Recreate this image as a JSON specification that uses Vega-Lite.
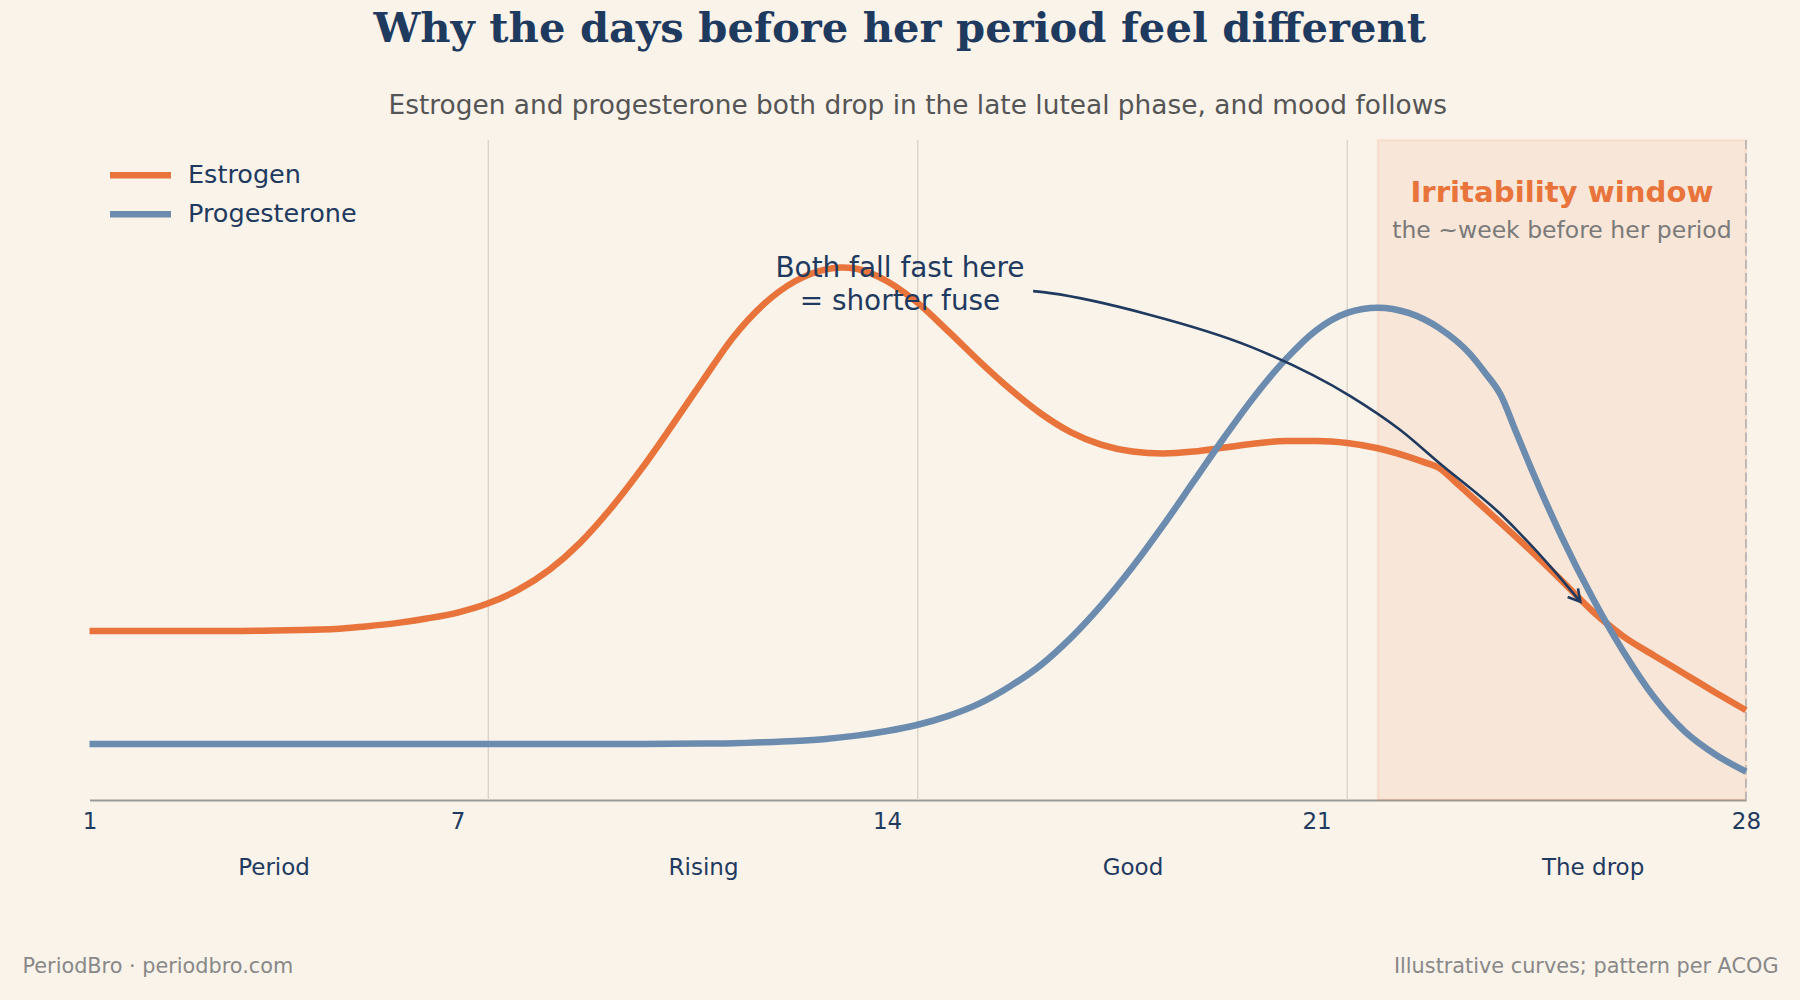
{
  "$schema": "https://vega.github.io/schema/vega-lite/v6.json",
  "width": 1656.5,
  "height": 660,
  "autosize": {"type": "none"},
  "padding": {"left": 89.5, "top": 140, "right": 54, "bottom": 200},
  "background": "#FAF3EA",
  "title": {
    "text": "Why the days before her period feel different",
    "subtitle": "Estrogen and progesterone both drop in the late luteal phase, and mood follows",
    "anchor": "middle",
    "frame": "group",
    "font": "DejaVu Serif",
    "fontSize": 41.7,
    "fontWeight": "bold",
    "color": "#1F3A5F",
    "subtitleFont": "DejaVu Sans",
    "subtitleFontSize": 26.4,
    "subtitleColor": "#555555",
    "subtitlePadding": 42,
    "offset": 19.6,
    "encode": {"title": {"update": {"dx": {"value": -18}}}}
  },
  "config": {
    "view": {"stroke": null},
    "font": "DejaVu Sans",
    "legend": {
      "orient": "none",
      "legendX": 32.5,
      "legendY": 16.8,
      "padding": 0,
      "symbolType": "M-2,0L2,0",
      "symbolSize": 930,
      "symbolStrokeWidth": 6.5,
      "labelFont": "DejaVu Sans",
      "labelFontSize": 25.5,
      "labelColor": "#1F3A5F",
      "labelOffset": 29,
      "labelLimit": 400,
      "rowPadding": 7
    }
  },
  "encoding": {
    "x": {
      "field": "day",
      "type": "quantitative",
      "scale": {"domain": [1, 28], "nice": false, "zero": false},
      "axis": {
        "values": [1, 4, 7, 11, 14, 18, 21, 25.5, 28],
        "labelExpr": "datum.value == 4 ? ['', 'Period'] : datum.value == 11 ? ['', 'Rising'] : datum.value == 18 ? ['', 'Good'] : datum.value == 25.5 ? ['', 'The drop'] : datum.label",
        "labelFlush": false,
        "labelOverlap": false,
        "labelPadding": 10,
        "labelBaseline": "top",
        "labelFont": "DejaVu Sans",
        "labelFontSize": 23,
        "labelColor": "#1F3A5F",
        "labelLineHeight": 46.7,
        "ticks": false,
        "grid": false,
        "domainColor": "#999999",
        "domainWidth": 2,
        "title": "PeriodBro · periodbro.com",
        "titleX": -67.5,
        "titleY": 166.3,
        "titleAlign": "left",
        "titleAnchor": "start",
        "titleBaseline": "middle",
        "titleFont": "DejaVu Sans",
        "titleFontSize": 20.8,
        "titleFontWeight": "normal",
        "titleColor": "#888888"
      }
    }
  },
  "layer": [
    {
      "data": {"values": [{"day": 22, "day_end": 28}]},
      "mark": {"type": "rect", "fill": "#E8743B", "fillOpacity": 0.1, "stroke": "#E8743B", "strokeOpacity": 0.1, "strokeWidth": 2.5},
      "encoding": {"x2": {"field": "day_end"}}
    },
    {
      "data": {"values": [{"day": 7.5}, {"day": 14.5}, {"day": 21.5}]},
      "mark": {"type": "rule", "stroke": "#D6D2C6", "strokeWidth": 1.3},
      "encoding": {}
    },
    {
      "data": {"values": [{"day": 28}]},
      "mark": {"type": "rule", "stroke": "#AFAFAF", "strokeWidth": 1.5, "strokeDash": [9.3, 4]},
      "encoding": {}
    },
    {
      "data": {"values": [
        {"day": 1, "hormone": "Estrogen", "level": 25.6},
        {"day": 2, "hormone": "Estrogen", "level": 25.6},
        {"day": 3, "hormone": "Estrogen", "level": 25.6},
        {"day": 4, "hormone": "Estrogen", "level": 25.7},
        {"day": 5, "hormone": "Estrogen", "level": 25.9},
        {"day": 5.5, "hormone": "Estrogen", "level": 26.3},
        {"day": 6, "hormone": "Estrogen", "level": 26.8},
        {"day": 6.5, "hormone": "Estrogen", "level": 27.5},
        {"day": 7, "hormone": "Estrogen", "level": 28.4},
        {"day": 7.5, "hormone": "Estrogen", "level": 29.8},
        {"day": 8, "hormone": "Estrogen", "level": 31.9},
        {"day": 8.5, "hormone": "Estrogen", "level": 34.9},
        {"day": 9, "hormone": "Estrogen", "level": 39.0},
        {"day": 9.5, "hormone": "Estrogen", "level": 44.2},
        {"day": 10, "hormone": "Estrogen", "level": 50.2},
        {"day": 10.5, "hormone": "Estrogen", "level": 56.8},
        {"day": 11, "hormone": "Estrogen", "level": 63.6},
        {"day": 11.5, "hormone": "Estrogen", "level": 70.2},
        {"day": 12, "hormone": "Estrogen", "level": 75.2},
        {"day": 12.5, "hormone": "Estrogen", "level": 78.6},
        {"day": 13, "hormone": "Estrogen", "level": 80.4},
        {"day": 13.25, "hormone": "Estrogen", "level": 80.7},
        {"day": 13.5, "hormone": "Estrogen", "level": 80.5},
        {"day": 14, "hormone": "Estrogen", "level": 78.6},
        {"day": 14.5, "hormone": "Estrogen", "level": 75.3},
        {"day": 15, "hormone": "Estrogen", "level": 71.0},
        {"day": 15.5, "hormone": "Estrogen", "level": 66.5},
        {"day": 16, "hormone": "Estrogen", "level": 62.3},
        {"day": 16.5, "hormone": "Estrogen", "level": 58.6},
        {"day": 17, "hormone": "Estrogen", "level": 55.7},
        {"day": 17.5, "hormone": "Estrogen", "level": 53.8},
        {"day": 18, "hormone": "Estrogen", "level": 52.8},
        {"day": 18.5, "hormone": "Estrogen", "level": 52.5},
        {"day": 19, "hormone": "Estrogen", "level": 52.8},
        {"day": 19.5, "hormone": "Estrogen", "level": 53.4},
        {"day": 20, "hormone": "Estrogen", "level": 54.0},
        {"day": 20.5, "hormone": "Estrogen", "level": 54.4},
        {"day": 21, "hormone": "Estrogen", "level": 54.4},
        {"day": 21.5, "hormone": "Estrogen", "level": 54.1},
        {"day": 22, "hormone": "Estrogen", "level": 53.3},
        {"day": 22.5, "hormone": "Estrogen", "level": 52.0},
        {"day": 22.75, "hormone": "Estrogen", "level": 51.2},
        {"day": 23, "hormone": "Estrogen", "level": 50.3},
        {"day": 23.25, "hormone": "Estrogen", "level": 48.3},
        {"day": 23.5, "hormone": "Estrogen", "level": 46.2},
        {"day": 24, "hormone": "Estrogen", "level": 42.0},
        {"day": 24.5, "hormone": "Estrogen", "level": 37.7},
        {"day": 25, "hormone": "Estrogen", "level": 33.2},
        {"day": 25.5, "hormone": "Estrogen", "level": 28.6},
        {"day": 26, "hormone": "Estrogen", "level": 24.8},
        {"day": 26.5, "hormone": "Estrogen", "level": 21.9},
        {"day": 27, "hormone": "Estrogen", "level": 19.1},
        {"day": 27.5, "hormone": "Estrogen", "level": 16.3},
        {"day": 28, "hormone": "Estrogen", "level": 13.6},
        {"day": 1, "hormone": "Progesterone", "level": 8.5},
        {"day": 2, "hormone": "Progesterone", "level": 8.5},
        {"day": 3, "hormone": "Progesterone", "level": 8.5},
        {"day": 4, "hormone": "Progesterone", "level": 8.5},
        {"day": 5, "hormone": "Progesterone", "level": 8.5},
        {"day": 6, "hormone": "Progesterone", "level": 8.5},
        {"day": 7, "hormone": "Progesterone", "level": 8.5},
        {"day": 8, "hormone": "Progesterone", "level": 8.5},
        {"day": 9, "hormone": "Progesterone", "level": 8.5},
        {"day": 10, "hormone": "Progesterone", "level": 8.5},
        {"day": 11, "hormone": "Progesterone", "level": 8.55},
        {"day": 11.5, "hormone": "Progesterone", "level": 8.6},
        {"day": 12, "hormone": "Progesterone", "level": 8.75},
        {"day": 12.5, "hormone": "Progesterone", "level": 8.95},
        {"day": 13, "hormone": "Progesterone", "level": 9.25},
        {"day": 13.5, "hormone": "Progesterone", "level": 9.75},
        {"day": 14, "hormone": "Progesterone", "level": 10.45},
        {"day": 14.5, "hormone": "Progesterone", "level": 11.4},
        {"day": 15, "hormone": "Progesterone", "level": 12.75},
        {"day": 15.5, "hormone": "Progesterone", "level": 14.6},
        {"day": 16, "hormone": "Progesterone", "level": 17.2},
        {"day": 16.5, "hormone": "Progesterone", "level": 20.4},
        {"day": 17, "hormone": "Progesterone", "level": 24.6},
        {"day": 17.5, "hormone": "Progesterone", "level": 29.6},
        {"day": 18, "hormone": "Progesterone", "level": 35.3},
        {"day": 18.5, "hormone": "Progesterone", "level": 41.6},
        {"day": 19, "hormone": "Progesterone", "level": 48.3},
        {"day": 19.5, "hormone": "Progesterone", "level": 55.0},
        {"day": 20, "hormone": "Progesterone", "level": 61.3},
        {"day": 20.5, "hormone": "Progesterone", "level": 66.8},
        {"day": 21, "hormone": "Progesterone", "level": 71.2},
        {"day": 21.5, "hormone": "Progesterone", "level": 73.8},
        {"day": 22, "hormone": "Progesterone", "level": 74.6},
        {"day": 22.5, "hormone": "Progesterone", "level": 73.8},
        {"day": 23, "hormone": "Progesterone", "level": 71.5},
        {"day": 23.5, "hormone": "Progesterone", "level": 67.6},
        {"day": 23.75, "hormone": "Progesterone", "level": 64.7},
        {"day": 24, "hormone": "Progesterone", "level": 61.4},
        {"day": 24.25, "hormone": "Progesterone", "level": 55.8},
        {"day": 24.5, "hormone": "Progesterone", "level": 50.2},
        {"day": 25, "hormone": "Progesterone", "level": 39.8},
        {"day": 25.5, "hormone": "Progesterone", "level": 30.6},
        {"day": 26, "hormone": "Progesterone", "level": 22.5},
        {"day": 26.5, "hormone": "Progesterone", "level": 15.6},
        {"day": 27, "hormone": "Progesterone", "level": 10.4},
        {"day": 27.5, "hormone": "Progesterone", "level": 6.9},
        {"day": 28, "hormone": "Progesterone", "level": 4.3}
      ]},
      "mark": {"type": "line", "interpolate": "monotone", "strokeWidth": 6.5},
      "encoding": {
        "y": {
          "field": "level",
          "type": "quantitative",
          "scale": {"domain": [0, 100], "nice": false, "zero": false},
          "axis": {
            "orient": "left",
            "domain": false,
            "ticks": false,
            "labels": false,
            "grid": false,
            "title": "Illustrative curves; pattern per ACOG",
            "titleAngle": 0,
            "titleAlign": "right",
            "titleBaseline": "middle",
            "titleX": 1688.5,
            "titleY": 826.3,
            "titleFont": "DejaVu Sans",
            "titleFontSize": 20.8,
            "titleFontWeight": "normal",
            "titleColor": "#888888"
          }
        },
        "color": {
          "field": "hormone",
          "type": "nominal",
          "scale": {"domain": ["Estrogen", "Progesterone"], "range": ["#E8743B", "#6B8CAE"]},
          "legend": {"title": null}
        }
      }
    },
    {
      "data": {"values": [
        {"day": 16.38, "level": 77.1},
        {"day": 16.66, "level": 76.8},
        {"day": 18.29, "level": 73.5},
        {"day": 19.92, "level": 68.7},
        {"day": 21.55, "level": 61.2},
        {"day": 22.36, "level": 56.1},
        {"day": 23.01, "level": 51.0},
        {"day": 23.99, "level": 43.4},
        {"day": 24.81, "level": 35.4},
        {"day": 25.3, "level": 30.05}
      ]},
      "mark": {"type": "line", "interpolate": "monotone", "stroke": "#1F3A5F", "strokeWidth": 2.6},
      "encoding": {
        "y": {"field": "level", "type": "quantitative", "scale": {"domain": [0, 100], "nice": false, "zero": false}}
      }
    },
    {
      "data": {"values": [{"day": 25.3, "level": 30.05}]},
      "mark": {"type": "point", "shape": "M-1,-0.577L0,0L-1,0.577", "size": 548, "filled": false, "stroke": "#1F3A5F", "strokeWidth": 2.6, "opacity": 1, "angle": 50},
      "encoding": {
        "y": {"field": "level", "type": "quantitative", "scale": {"domain": [0, 100], "nice": false, "zero": false}}
      }
    },
    {
      "data": {"values": [{"day": 14.21, "level": 80.5, "note": ["Both fall fast here", "= shorter fuse"]}]},
      "mark": {"type": "text", "align": "center", "baseline": "middle", "font": "DejaVu Sans", "fontSize": 27.9, "lineHeight": 33.3, "color": "#1F3A5F"},
      "encoding": {
        "y": {"field": "level", "type": "quantitative", "scale": {"domain": [0, 100], "nice": false, "zero": false}},
        "text": {"field": "note"}
      }
    },
    {
      "data": {"values": [{"day": 25, "level": 91.9, "note": "Irritability window"}]},
      "mark": {"type": "text", "align": "center", "baseline": "middle", "font": "DejaVu Sans", "fontSize": 29.2, "fontWeight": "bold", "color": "#E8743B"},
      "encoding": {
        "y": {"field": "level", "type": "quantitative", "scale": {"domain": [0, 100], "nice": false, "zero": false}},
        "text": {"field": "note"}
      }
    },
    {
      "data": {"values": [{"day": 25, "level": 86.2, "note": "the ~week before her period"}]},
      "mark": {"type": "text", "align": "center", "baseline": "middle", "font": "DejaVu Sans", "fontSize": 23.5, "color": "#7A7A7A"},
      "encoding": {
        "y": {"field": "level", "type": "quantitative", "scale": {"domain": [0, 100], "nice": false, "zero": false}},
        "text": {"field": "note"}
      }
    }
  ]
}
